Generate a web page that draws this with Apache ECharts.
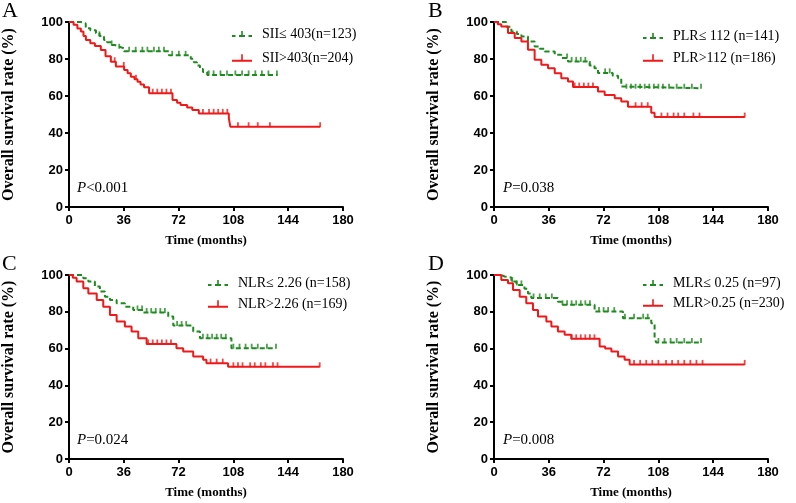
<!DOCTYPE html>
<html><head><meta charset="utf-8">
<script src="https://cdn.jsdelivr.net/npm/echarts@6/dist/echarts.min.js"></script>
<style>html,body{margin:0;padding:0;background:#fff}#c{width:796px;height:503px}</style>
</head><body><div id="c"></div>
<script>
// ---- tick labels ----
const xTicks = [0, 36, 72, 108, 144, 180];
const yTicks = [0, 20, 40, 60, 80, 100];
const panelLetters = ['A', 'B', 'C', 'D'];
const pSuffix = ['<0.001', '=0.038', '=0.024', '=0.008'];
const lowNames = ['SII\u2264 403(n=123)', 'PLR\u2264 112 (n=141)', 'NLR\u2264 2.26 (n=158)', 'MLR\u2264 0.25 (n=97)'];
const highNames = ['SII>403(n=204)', 'PLR>112 (n=186)', 'NLR>2.26 (n=169)', 'MLR>0.25 (n=230)'];

// ---- Panel A (SII) ----
const lowA_t = [0, 7.8, 11, 14, 17.7, 20, 23, 25, 27.5, 30, 33, 36, 65.6, 80, 82, 84, 86, 88, 90.8];
const lowA_v = [100, 99.2, 96.6, 95.5, 93.9, 92.5, 90.3, 89, 87.6, 86.7, 85.8, 84.2, 82.0, 80.1, 78.3, 76.5, 74.6, 73, 71.4];
const lowA_end = 137;
const lowA_cens = [20, 28, 33, 39.5, 43.8, 48.2, 51.5, 55.8, 59, 62.4, 67.8, 72.2, 76.6, 91.8, 95, 99.5, 103.8, 109.3, 113.7, 118, 122.4, 126.7, 131, 136.6];
const highA_t = [0, 3, 5.5, 7.8, 9.5, 11.1, 14, 17, 20.9, 24, 27.5, 30.8, 36.2, 38.5, 40.6, 43, 45, 47, 49.3, 52.6, 68, 71, 73.3, 77.6, 81, 85.3, 105, 106];
const highA_v = [100, 98.5, 96.5, 94.8, 92.5, 90.3, 88.5, 87, 84.9, 81.5, 78.5, 76, 74.1, 72.3, 70.4, 69, 67.7, 66.2, 64.7, 61.5, 57.8, 56.4, 55.1, 53.8, 52.4, 50.6, 48, 43.4];
const highA_end = 165;
const highA_cens = [30, 36, 44, 55, 58, 61, 64, 67, 88, 92, 95, 98, 101, 104, 111, 118, 124, 132, 165];

// ---- Panel B (PLR) ----
const lowB_t = [0, 8, 11.4, 15, 18, 22.3, 26.7, 30, 33.3, 39.9, 44.2, 48.6, 62.8, 66, 68.3, 78, 81.5, 83.6, 85.8];
const lowB_v = [100, 97.5, 94.9, 93.5, 92.2, 89.5, 86.8, 85.5, 84.1, 82.3, 80.5, 78.7, 76.5, 75, 72.5, 71, 69.6, 65.1, 64.2];
const lowB_end = 136;
const lowB_cens = [48, 51, 54, 57, 60, 63, 73, 76, 87, 90, 93, 96, 99, 102, 105, 108, 111, 115, 120, 125, 130, 136];
const highB_t = [0, 2.5, 4.8, 9.2, 13.6, 18, 22.3, 26.7, 31.1, 35.5, 39.9, 44.2, 48.6, 51.9, 68.3, 72.7, 79.3, 83.6, 88, 103.3, 105.5];
const highB_v = [100, 98.8, 97.6, 94, 91.3, 89.5, 85, 79.6, 76.9, 75, 72.3, 69.6, 67.8, 64.8, 62.4, 60.6, 58.8, 57, 54.2, 51, 48.6];
const highB_end = 164.7;
const highB_cens = [53, 56, 59, 62, 65, 93, 97, 101, 110, 114, 118, 121, 125, 131, 135, 164.7];

// ---- Panel C (NLR) ----
const lowC_t = [0, 9.4, 12.7, 17, 20.3, 23.6, 26.9, 31.3, 36.7, 42.2, 48.8, 65.2, 68.5, 81.6, 86, 106.7];
const lowC_v = [100, 98.2, 96.4, 93.7, 91, 88.2, 86.4, 84.6, 82.8, 81, 79.6, 77.4, 72.5, 69.3, 65.6, 60.2];
const lowC_end = 136;
const lowC_cens = [45, 48, 51, 54, 57, 60, 63, 71, 74, 77, 88, 91, 94, 97, 100, 103, 108, 112, 116, 120, 124, 130, 136];
const highC_t = [0, 2.5, 5, 9.4, 12.7, 18.2, 22.5, 26.9, 31.3, 36.7, 41.1, 45.5, 51, 70.6, 75, 81.6, 88.1, 90.3, 104.5];
const highC_v = [100, 98.5, 96.4, 92.8, 90, 86.4, 82.8, 78.3, 74.7, 72, 69.3, 65.6, 62.5, 60.2, 58.4, 55.7, 53.9, 52.1, 50.1];
const highC_end = 164.7;
const highC_cens = [52, 55, 58, 61, 64, 67, 93, 97, 101, 108, 111, 114, 119, 122, 126, 129, 134, 137, 164.7];

// ---- Panel D (MLR) ----
const lowD_t = [0, 4.8, 7, 11.4, 14.7, 20, 22.3, 24.5, 42, 44.2, 66.1, 84.7, 103.3, 105.5, 106.6];
const lowD_v = [100, 99.2, 98.7, 96.4, 94.6, 92.5, 90, 87.5, 85.5, 83.8, 80.1, 76.5, 73.8, 65.6, 63.3];
const lowD_end = 136.2;
const lowD_cens = [12, 15, 18, 26, 30, 34, 38, 45, 48, 51, 54, 57, 60, 63, 69, 72, 75, 79, 86, 92, 98, 101, 108, 112, 116, 120, 125, 130, 136];
const highD_t = [0, 4.8, 9.2, 12.5, 16.9, 21.2, 25.6, 28.9, 34.4, 37.7, 42, 46.4, 50.8, 69.4, 73, 77.1, 81.5, 85.8, 89.1];
const highD_v = [100, 97.3, 95.5, 91.9, 88.2, 84.6, 81, 77.4, 74.7, 72, 69.3, 67.5, 65.3, 61.1, 60, 58.4, 55.7, 53.9, 51.4];
const highD_end = 164.7;
const highD_cens = [51, 54, 57, 60, 63, 66, 92, 96, 100, 104, 108, 113, 117, 121, 125, 129, 133, 137, 164.7];

const curves = [
  {low: [lowA_t, lowA_v, lowA_end, lowA_cens], high: [highA_t, highA_v, highA_end, highA_cens]},
  {low: [lowB_t, lowB_v, lowB_end, lowB_cens], high: [highB_t, highB_v, highB_end, highB_cens]},
  {low: [lowC_t, lowC_v, lowC_end, lowC_cens], high: [highC_t, highC_v, highC_end, highC_cens]},
  {low: [lowD_t, lowD_v, lowD_end, lowD_cens], high: [highD_t, highD_v, highD_end, highD_cens]}
];

// ---- layout (not data) ----
const grids = [
  {left: 68, top: 22, width: 275, height: 185},
  {left: 494, top: 22, width: 274, height: 185},
  {left: 68, top: 275, width: 275, height: 184},
  {left: 494, top: 275, width: 274, height: 184}
];
const legendPos = [
  {left: 227, top: 21, gap: 8},
  {left: 638, top: 23, gap: 6},
  {left: 203, top: 270, gap: 5},
  {left: 638, top: 270, gap: 4}
];
const GREEN = '#1f8a1f', RED = '#f01818';
const SERIF = '"Liberation Serif","Times New Roman",serif';
const SANS = '"Liberation Sans",Arial,sans-serif';

function stepValue(ts, vs, t) {
  let v = vs[0];
  for (let i = 0; i < ts.length; i++) { if (ts[i] <= t) v = vs[i]; }
  return v;
}
function lineData(c) {
  const d = c[0].map((t, i) => [t, c[1][i]]);
  d.push([c[2], c[1][c[1].length - 1]]);
  return d;
}
function censData(c) { return c[3].map(t => [t, stepValue(c[0], c[1], t)]); }

const iconRed = 'path://M0,6h20v1.8h-20zM9.2,0.5h1.6v5.5h-1.6z';
const iconGreen = 'path://M0,6h3.5v1.8h-3.5zM7,6h6v1.8h-6zM16.5,6h3.5v1.8h-3.5zM9.2,2h1.6v4h-1.6z';

const option = {
  animation: false,
  backgroundColor: '#fff',
  grid: grids.map(g => Object.assign({containLabel: false}, g)),
  xAxis: grids.map((g, i) => ({
    type: 'value', gridIndex: i, min: xTicks[0], max: xTicks[xTicks.length - 1], interval: xTicks[1] - xTicks[0],
    name: 'Time (months)', nameLocation: 'middle', nameGap: 27,
    nameTextStyle: {fontFamily: SERIF, fontWeight: 'bold', fontSize: 13, color: '#000'},
    axisLine: {lineStyle: {color: '#000', width: 2}},
    axisTick: {show: true, length: 4, lineStyle: {color: '#000', width: 2}},
    axisLabel: {fontFamily: SANS, fontWeight: 'bold', fontSize: 13, color: '#000', margin: 7},
    splitLine: {show: false}
  })),
  yAxis: grids.map((g, i) => ({
    type: 'value', gridIndex: i, min: yTicks[0], max: yTicks[yTicks.length - 1], interval: yTicks[1] - yTicks[0],
    name: 'Overall survival rate (%)', nameLocation: 'middle', nameGap: 52,
    nameTextStyle: {fontFamily: SERIF, fontWeight: 'bold', fontSize: 16, color: '#000'},
    axisLine: {show: true, lineStyle: {color: '#000', width: 2}},
    axisTick: {show: true, length: 4, lineStyle: {color: '#000', width: 2}},
    axisLabel: {fontFamily: SANS, fontWeight: 'bold', fontSize: 13, color: '#000', margin: 6},
    splitLine: {show: false}
  })),
  legend: grids.map((g, i) => ({
    orient: 'vertical', left: legendPos[i].left, top: legendPos[i].top, itemGap: legendPos[i].gap,
    itemWidth: 20, itemHeight: 8, selectedMode: false,
    textStyle: {fontFamily: SERIF, fontSize: 14, color: '#000', lineHeight: 16, padding: [0, 0, 0, 5]},
    data: [{name: lowNames[i], icon: iconGreen}, {name: highNames[i], icon: iconRed}]
  })),
  series: [],
  graphic: []
};

curves.forEach((c, i) => {
  option.series.push({
    type: 'line', name: lowNames[i], xAxisIndex: i, yAxisIndex: i, step: 'end', symbol: 'none',
    data: lineData(c.low), color: GREEN, z: 3,
    lineStyle: {color: GREEN, width: 2, type: [5, 3]}
  });
  option.series.push({
    type: 'line', name: highNames[i], xAxisIndex: i, yAxisIndex: i, step: 'end', symbol: 'none',
    data: lineData(c.high), color: RED, z: 4,
    lineStyle: {color: RED, width: 2}
  });
  option.series.push({
    type: 'scatter', name: 'cens-low-' + i, xAxisIndex: i, yAxisIndex: i, symbol: 'rect',
    symbolSize: [1.8, 5], symbolOffset: [0, -2], data: censData(c.low), itemStyle: {color: GREEN}, z: 3
  });
  option.series.push({
    type: 'scatter', name: 'cens-high-' + i, xAxisIndex: i, yAxisIndex: i, symbol: 'rect',
    symbolSize: [1.8, 5], symbolOffset: [0, -2], data: censData(c.high), itemStyle: {color: RED}, z: 4
  });
  const g = grids[i];
  option.graphic.push({
    type: 'text', left: g.left - 66, top: g.top - 22,
    style: {text: panelLetters[i], font: '22px ' + SERIF, fill: '#000'}
  });
  option.graphic.push({
    type: 'text', left: g.left + 9, top: g.top + g.height - 26,
    style: {text: '{i|P}' + pSuffix[i], font: '15px ' + SERIF, fill: '#000',
      rich: {i: {fontStyle: 'italic', fontFamily: SERIF, fontSize: 15}}}
  });
});

const chart = echarts.init(document.getElementById('c'), null, {renderer: 'canvas'});
chart.setOption(option);
</script>
</body></html>
